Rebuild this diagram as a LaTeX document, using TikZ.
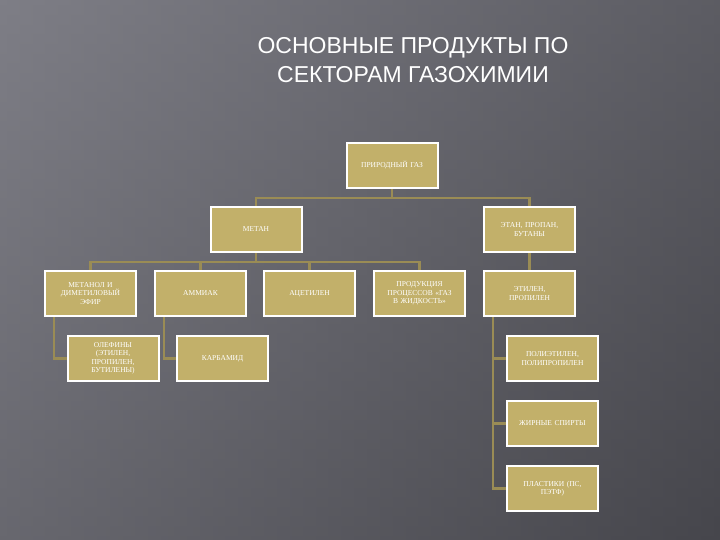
\documentclass[tikz,border=0pt]{standalone}
\usepackage{fontspec}
\setmainfont{Liberation Serif}
\newfontfamily\titlefont{Liberation Sans}
\definecolor{boxfill}{HTML}{C2B06A}
\definecolor{linec}{HTML}{9A8C55}
\definecolor{bgdark}{HTML}{46464C}
\definecolor{bglight}{HTML}{7E7E86}
\begin{document}
\begin{tikzpicture}[x=1pt,y=-1pt,
  bx/.style={draw=white,line width=2pt,fill=boxfill,minimum width=91pt,minimum height=45pt,
    text width=72pt,align=center,font=\fontsize{7.5}{8.5}\selectfont,text=white,inner sep=1pt},
  ln/.style={draw=linec,line width=2.6pt}]
\shade[top color=bglight,bottom color=bgdark] (0,0) rectangle (720,540);
\shade[left color=bglight,right color=bgdark,opacity=0.6] (0,0) rectangle (720,540);
\useasboundingbox (0,0) rectangle (720,540);
\node[font=\titlefont\fontsize{23}{29}\selectfont,text=white,align=center] (title) at (413,60) {ОСНОВНЫЕ ПРОДУКТЫ ПО\\СЕКТОРАМ ГАЗОХИМИИ};
\coordinate (j1) at (392,198);
\coordinate (j2) at (256,262);
\node[bx] (gas) at (392,165.5) {ПРИРОДНЫЙ ГАЗ};
\node[bx] (met) at (256,229.5) {МЕТАН};
\node[bx] (eth) at (529.5,229.5) {ЭТАН, ПРОПАН, БУТАНЫ};
\node[bx] (mol) at (90.5,293.5) {МЕТАНОЛ И ДИМЕТИЛОВЫЙ ЭФИР};
\node[bx] (amm) at (200.5,293.5) {АММИАК};
\node[bx] (ace) at (309.5,293.5) {АЦЕТИЛЕН};
\node[bx] (gtl) at (419.5,293.5) {ПРОДУКЦИЯ ПРОЦЕССОВ «ГАЗ В ЖИДКОСТЬ»};
\node[bx] (ety) at (529.5,293.5) {ЭТИЛЕН, ПРОПИЛЕН};
\node[bx,text width=60pt] (ole) at (113,358.5) {ОЛЕФИНЫ (ЭТИЛЕН, ПРОПИЛЕН, БУТИЛЕНЫ)};
\node[bx] (kar) at (222.5,358.5) {КАРБАМИД};
\node[bx] (pol) at (552.5,358.5) {ПОЛИЭТИЛЕН, ПОЛИПРОПИЛЕН};
\node[bx,text width=88pt] (zhs) at (552.5,423.5) {ЖИРНЫЕ СПИРТЫ};
\node[bx] (pla) at (552.5,488.5) {ПЛАСТИКИ (ПС,\\ПЭТФ)};
\path[ln] (gas.south) -- (j1) -| (met.north);
\path[ln] (j1) -| (eth.north);
\path[ln] (met.south) -- (j2) -| (mol.north);
\path[ln] (j2) -| (amm.north);
\path[ln] (j2) -| (ace.north);
\path[ln] (j2) -| (gtl.north);
\path[ln] (eth.south) -- (ety.north);
\path[ln] (mol.south west) ++(10,0) |- (ole.west);
\path[ln] (amm.south west) ++(10,0) |- (kar.west);
\path[ln] (ety.south west) ++(10,0) |- (pla.west);
\path[ln] (ety.south west) ++(10,0) |- (pol.west);
\path[ln] (ety.south west) ++(10,0) |- (zhs.west);
\foreach \n/\t/\w in {gas/ПРИРОДНЫЙ ГАЗ/72,met/МЕТАН/72,eth/{ЭТАН, ПРОПАН, БУТАНЫ}/72,mol/МЕТАНОЛ И ДИМЕТИЛОВЫЙ ЭФИР/72,amm/АММИАК/72,ace/АЦЕТИЛЕН/72,gtl/ПРОДУКЦИЯ ПРОЦЕССОВ «ГАЗ В ЖИДКОСТЬ»/72,ety/{ЭТИЛЕН, ПРОПИЛЕН}/72,ole/{ОЛЕФИНЫ (ЭТИЛЕН, ПРОПИЛЕН, БУТИЛЕНЫ)}/60,kar/КАРБАМИД/72,pol/{ПОЛИЭТИЛЕН, ПОЛИПРОПИЛЕН}/72,zhs/ЖИРНЫЕ СПИРТЫ/88,pla/{ПЛАСТИКИ (ПС,\\ПЭТФ)}/72}
  \node[bx,text width=\w pt] at (\n) {\t};
\end{tikzpicture}
\end{document}
